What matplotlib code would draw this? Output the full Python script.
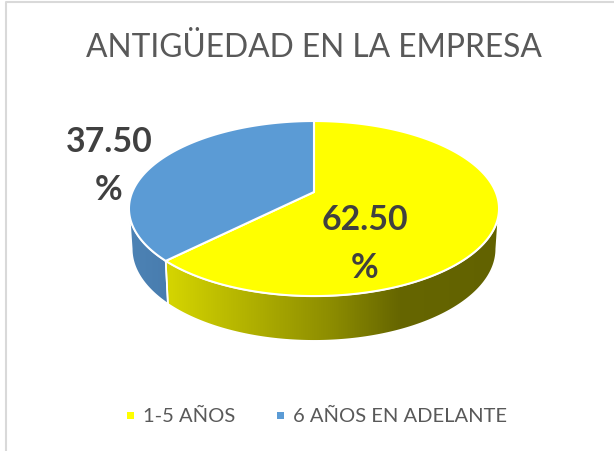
import numpy as np
import matplotlib
matplotlib.use("Agg")
import matplotlib.pyplot as plt
from matplotlib.colors import LinearSegmentedColormap
from matplotlib.patches import Polygon, Rectangle

plt.rcParams['font.family'] = ['Lato', 'DejaVu Sans']

# Datos
categorias = ["1-5 AÑOS", "6 AÑOS EN ADELANTE"]
valores = [62.5, 37.5]
colores = ["#FFFF00", "#5B9BD5"]
titulo = "ANTIGÜEDAD EN LA EMPRESA"

W, H = 614, 452
# Proyeccion de la tarta (en pixeles)
cx = 314
p = 0.189
top_cy, top_a, top_b = 193, 181.7, 84.4
bot_cy, bot_a, bot_b = 232.5, 179.0, 88.7


def proyectar(theta, cy, a, b):
    # theta en radianes, 0 arriba y sentido horario
    d = 1 + p * np.cos(theta)
    return np.column_stack((cx + a * np.sin(theta) / d, cy - b * np.cos(theta) / d))


def arco(t0, t1, cy, a, b):
    return proyectar(np.linspace(t0, t1, 200), cy, a, b)


def lado(ax, t0, t1, stops, x0, x1):
    # cara lateral con degradado horizontal recortado al poligono
    pts = np.vstack((arco(t0, t1, top_cy, top_a, top_b), arco(t1, t0, bot_cy, bot_a, bot_b)))
    poly = Polygon(pts, closed=True, facecolor="none", edgecolor="white", linewidth=1.2, zorder=3)
    ax.add_patch(poly)
    cmap = LinearSegmentedColormap.from_list("g", stops)
    im = ax.imshow(np.linspace(0, 1, 256).reshape(1, -1), cmap=cmap, aspect="auto",
                   extent=(x0, x1, H, 0), zorder=2)
    clip = Polygon(pts, closed=True, transform=ax.transData)
    im.set_clip_path(clip)


fig = plt.figure(figsize=(W / 100, H / 100), dpi=100)
ax = fig.add_axes([0, 0, 1, 1])

# Angulos a partir de los valores
cortes = np.cumsum([0] + valores) / sum(valores) * 2 * np.pi
t_der = np.arccos(-p)
t_izq = 2 * np.pi - t_der

lado(ax, t_der, cortes[1],
     [(0, "#D6D600"), (0.5, "#8C8C00"), (0.7, "#666600"), (1, "#626200")], 165, 500)
lado(ax, cortes[1], t_izq, [(0, "#4D83B5"), (1, "#487CAE")], 128, 170)

# Cara superior
for i in range(len(valores)):
    borde = arco(cortes[i], cortes[i + 1], top_cy, top_a, top_b)
    pts = np.vstack(([[cx, top_cy]], borde))
    ax.add_patch(Polygon(pts, closed=True, facecolor=colores[i], edgecolor="white",
                         linewidth=1.5, joinstyle="round", zorder=4))

# Marco del grafico
ax.plot([5.5, 5.5, W], [H, 2.5, 2.5], color="#D9D9D9", linewidth=1.5, zorder=1)

# Textos
ax.text(314, 48, titulo, ha="center", va="center", fontsize=22.9, color="#595959", zorder=6)
etiquetas = [f"{v:.2f}\n%" for v in valores]
ax.text(365, 244, etiquetas[0], ha="center", va="center", fontsize=24.4, fontweight="bold",
        color="#404040", linespacing=1.6, zorder=6)
ax.text(109, 166, etiquetas[1], ha="center", va="center", fontsize=24.4, fontweight="bold",
        color="#404040", linespacing=1.6, zorder=6)

# Leyenda
for x_cuadro, x_texto, cat, col in zip([127, 277], [143, 293], categorias, colores):
    ax.add_patch(Rectangle((x_cuadro, 413), 7, 7, facecolor=col, edgecolor="none", zorder=6))
    ax.text(x_texto, 416, cat, ha="left", va="center", fontsize=14.5, color="#595959", zorder=6)

ax.set_xlim(0, W)
ax.set_ylim(H, 0)
ax.axis("off")
fig.savefig("out.png", dpi=100)
